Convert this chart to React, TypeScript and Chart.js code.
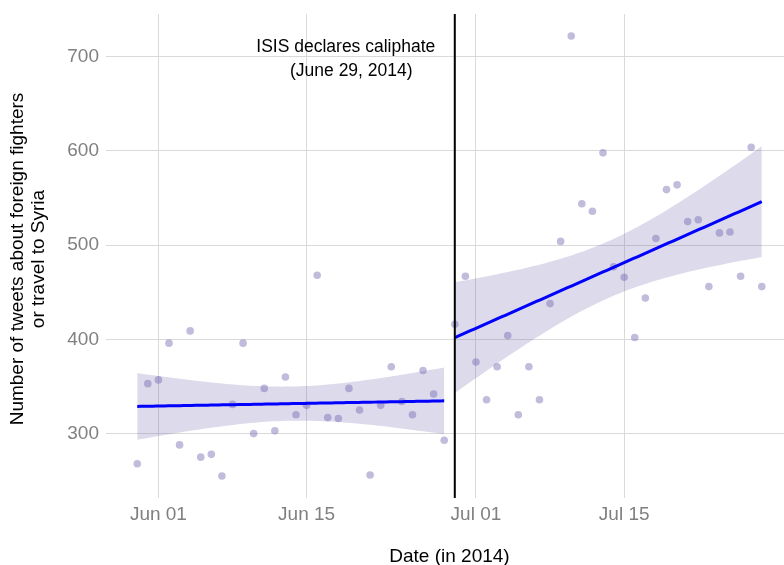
import React, { useEffect, useRef } from "react";
import { Chart, registerables } from "chart.js";

Chart.register(...registerables);

// ---------- data ----------
const START_DATE = "2014-05-30";

const preDates = [
  "2014-05-30", "2014-05-31", "2014-06-01", "2014-06-02", "2014-06-03", "2014-06-04",
  "2014-06-05", "2014-06-06", "2014-06-07", "2014-06-08", "2014-06-09", "2014-06-10",
  "2014-06-11", "2014-06-12", "2014-06-13", "2014-06-14", "2014-06-15", "2014-06-16",
  "2014-06-17", "2014-06-18", "2014-06-19", "2014-06-20", "2014-06-21", "2014-06-22",
  "2014-06-23", "2014-06-24", "2014-06-25", "2014-06-26", "2014-06-27", "2014-06-28",
];
const preTweets = [
  268, 353, 357, 396, 288, 409, 275, 278, 255, 331, 396, 300, 348, 303, 360,
  320, 330, 468, 317, 316, 348, 325, 256, 330, 371, 334, 320, 367, 342, 293,
];

const postDates = [
  "2014-06-29", "2014-06-30", "2014-07-01", "2014-07-02", "2014-07-03", "2014-07-04",
  "2014-07-05", "2014-07-06", "2014-07-07", "2014-07-08", "2014-07-09", "2014-07-10",
  "2014-07-11", "2014-07-12", "2014-07-13", "2014-07-14", "2014-07-15", "2014-07-16",
  "2014-07-17", "2014-07-18", "2014-07-19", "2014-07-20", "2014-07-21", "2014-07-22",
  "2014-07-23", "2014-07-24", "2014-07-25", "2014-07-26", "2014-07-27", "2014-07-28",
];
const postTweets = [
  416, 467, 376, 336, 371, 404, 320, 371, 336, 438, 504, 722, 544, 536, 598,
  477, 466, 402, 444, 507, 559, 564, 525, 527, 456, 513, 514, 467, 604, 456,
];

const CALIPHATE_DATE = "2014-06-29";
const xTickDates = ["2014-06-01", "2014-06-15", "2014-07-01", "2014-07-15"];
const xTickLabels = ["Jun 01", "Jun 15", "Jul 01", "Jul 15"];
const yTicks = [300, 400, 500, 600, 700];

const annotationLines = ["ISIS declares caliphate", "(June 29, 2014)"];
const xTitle = "Date (in 2014)";
const yTitleLines = ["Number of tweets about foreign fighters", "or travel to Syria"];

// ---------- helpers ----------
const FONT = "'Liberation Sans', Arial, Helvetica, sans-serif";
const T_975_DF28 = 2.0484; // 95% t-quantile, 28 degrees of freedom (n = 30)

const dayOf = (d: string) =>
  Math.round((Date.parse(d + "T00:00:00Z") - Date.parse(START_DATE + "T00:00:00Z")) / 86400000);

function fitLM(xs: number[], ys: number[]) {
  const n = xs.length;
  const mx = xs.reduce((a, b) => a + b, 0) / n;
  const my = ys.reduce((a, b) => a + b, 0) / n;
  let sxx = 0, sxy = 0;
  for (let i = 0; i < n; i++) {
    sxx += (xs[i] - mx) ** 2;
    sxy += (xs[i] - mx) * (ys[i] - my);
  }
  const b = sxy / sxx;
  const a = my - b * mx;
  let rss = 0;
  for (let i = 0; i < n; i++) rss += (ys[i] - (a + b * xs[i])) ** 2;
  const s = Math.sqrt(rss / (n - 2));
  const xmin = Math.min(...xs), xmax = Math.max(...xs);
  const line: { x: number; y: number }[] = [];
  const upper: { x: number; y: number }[] = [];
  const lower: { x: number; y: number }[] = [];
  const steps = 80;
  for (let k = 0; k < steps; k++) {
    const x = xmin + ((xmax - xmin) * k) / (steps - 1);
    const yhat = a + b * x;
    const se = s * Math.sqrt(1 / n + (x - mx) ** 2 / sxx);
    line.push({ x, y: yhat });
    upper.push({ x, y: yhat + T_975_DF28 * se });
    lower.push({ x, y: yhat - T_975_DF28 * se });
  }
  return { line, upper, lower };
}

export default function App() {
  const canvasRef = useRef<HTMLCanvasElement | null>(null);

  useEffect(() => {
    const canvas = canvasRef.current;
    if (!canvas) return;

    const preX = preDates.map(dayOf);
    const postX = postDates.map(dayOf);
    const allX = [...preX, ...postX];
    const allY = [...preTweets, ...postTweets];
    const points = allX.map((x, i) => ({ x, y: allY[i] }));

    const fitPre = fitLM(preX, preTweets);
    const fitPost = fitLM(postX, postTweets);

    const xmin0 = Math.min(...allX), xmax0 = Math.max(...allX);
    const ymin0 = Math.min(...allY), ymax0 = Math.max(...allY);
    const xPad = (xmax0 - xmin0) * 0.05;
    const yPad = (ymax0 - ymin0) * 0.05;

    const vDay = dayOf(CALIPHATE_DATE);

    const bandColor = "rgba(117,107,177,0.25)";
    const pointColor = "rgba(117,107,177,0.45)";

    const overlay = {
      id: "overlay",
      afterDatasetsDraw(chart: any) {
        const { ctx, chartArea, scales } = chart;
        const vx = scales.x.getPixelForValue(vDay);
        ctx.save();
        ctx.strokeStyle = "#000000";
        ctx.lineWidth = 2;
        ctx.beginPath();
        ctx.moveTo(vx, chartArea.top);
        ctx.lineTo(vx, chartArea.bottom);
        ctx.stroke();

        ctx.fillStyle = "#000000";
        ctx.font = `17.5px ${FONT}`;
        ctx.textAlign = "center";
        ctx.textBaseline = "alphabetic";
        ctx.fillText(annotationLines[0], vx - 109, chartArea.top + 38);
        ctx.fillText(annotationLines[1], vx - 103.5, chartArea.top + 62);
        ctx.restore();
      },
      afterDraw(chart: any) {
        const { ctx, chartArea } = chart;
        ctx.save();
        ctx.fillStyle = "#000000";
        ctx.font = `19px ${FONT}`;
        ctx.textAlign = "center";
        ctx.textBaseline = "alphabetic";
        ctx.fillText(xTitle, (chartArea.left + chartArea.right) / 2, chartArea.bottom + 64);

        ctx.translate(0, (chartArea.top + chartArea.bottom) / 2 + 3);
        ctx.rotate(-Math.PI / 2);
        ctx.fillText(yTitleLines[0], 0, 22.5);
        ctx.fillText(yTitleLines[1], 0, 44);
        ctx.restore();
      },
    };

    const lineDs = (data: any[], order: number) => ({
      data,
      showLine: true,
      borderColor: "#0000ff",
      borderWidth: 3,
      pointRadius: 0,
      fill: false,
      order,
    });
    const bandDs = (data: any[], fill: any, order: number) => ({
      data,
      showLine: true,
      borderWidth: 0,
      borderColor: "rgba(0,0,0,0)",
      backgroundColor: bandColor,
      pointRadius: 0,
      fill,
      order,
    });

    const chart = new Chart(canvas, {
      type: "scatter",
      data: {
        datasets: [
          {
            data: points,
            backgroundColor: pointColor,
            borderWidth: 0,
            pointRadius: 3.8,
            order: 4,
          } as any,
          bandDs(fitPre.upper, "+1", 3),
          bandDs(fitPre.lower, false, 3),
          bandDs(fitPost.upper, "+1", 3),
          bandDs(fitPost.lower, false, 3),
          lineDs(fitPre.line, 1),
          lineDs(fitPost.line, 1),
        ],
      },
      options: {
        animation: false,
        responsive: false,
        devicePixelRatio: window.devicePixelRatio || 1,
        layout: { padding: { left: 0, right: 7, top: 14, bottom: 0 } },
        plugins: {
          legend: { display: false },
          tooltip: { enabled: false },
        },
        scales: {
          x: {
            type: "linear",
            min: xmin0 - xPad,
            max: xmax0 + xPad,
            afterBuildTicks: (scale: any) => {
              scale.ticks = xTickDates.map((d) => ({ value: dayOf(d) }));
            },
            afterFit: (scale: any) => {
              scale.height = 67;
              scale.paddingLeft = 0;
              scale.paddingRight = 0;
            },
            ticks: {
              autoSkip: false,
              maxRotation: 0,
              color: "#808080",
              font: { family: FONT, size: 19 },
              padding: 5,
              callback: (v: any) => {
                const i = xTickDates.findIndex((d) => dayOf(d) === v);
                return i >= 0 ? xTickLabels[i] : "";
              },
            },
            grid: { color: "#d9d9d9", lineWidth: 1, drawTicks: false },
            border: { display: false },
          },
          y: {
            type: "linear",
            min: ymin0 - yPad,
            max: ymax0 + yPad,
            afterBuildTicks: (scale: any) => {
              scale.ticks = yTicks.map((v) => ({ value: v }));
            },
            afterFit: (scale: any) => {
              scale.width = 106;
              scale.paddingTop = 0;
              scale.paddingBottom = 0;
            },
            ticks: {
              color: "#808080",
              font: { family: FONT, size: 19 },
              padding: 7,
              callback: (v: any) => String(v),
            },
            grid: { color: "#d9d9d9", lineWidth: 1, drawTicks: false },
            border: { display: false },
          },
        },
      },
      plugins: [overlay],
    });

    return () => chart.destroy();
  }, []);

  return (
    <div
      style={{
        position: "fixed",
        left: 0,
        top: 0,
        width: 784,
        height: 565,
        overflow: "hidden",
        background: "#ffffff",
      }}
    >
      <canvas
        ref={canvasRef}
        width={800}
        height={565}
        style={{ width: 800, height: 565, display: "block" }}
      />
    </div>
  );
}
